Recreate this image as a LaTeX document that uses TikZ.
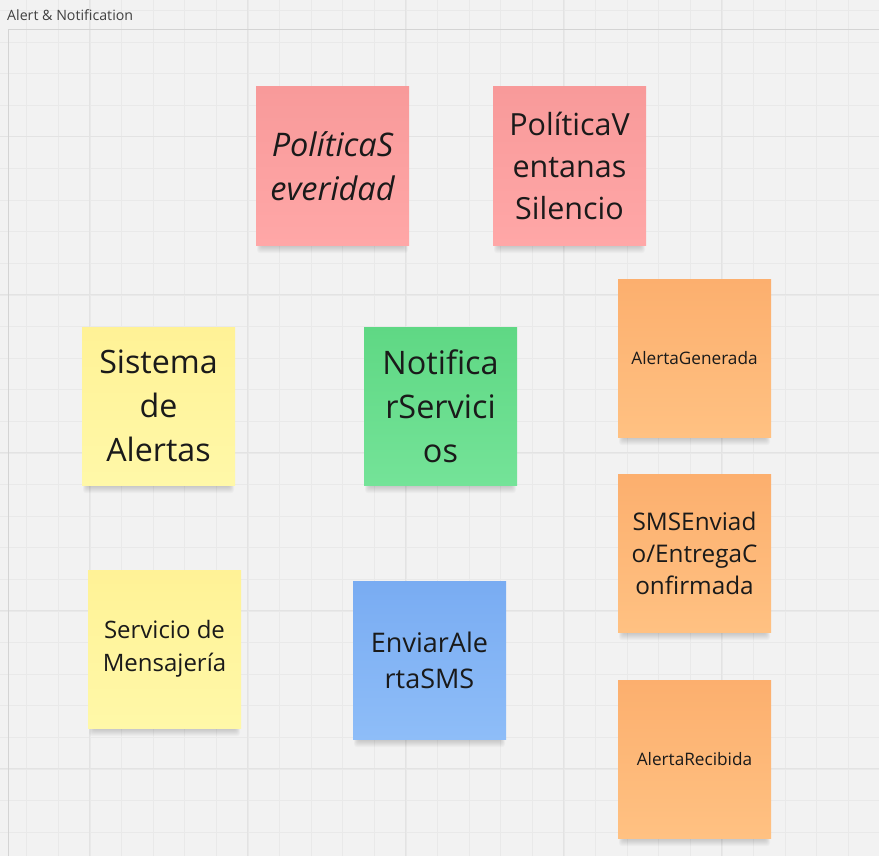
\documentclass[tikz,border=0pt]{standalone}
\usepackage{fontspec}
\setmainfont{Open Sans}
\usetikzlibrary{calc}
\pgfdeclarelayer{gridl}
\pgfdeclarelayer{shadowl}
\pgfsetlayers{gridl,shadowl,main}
\definecolor{bgc}{HTML}{F2F2F2}
\definecolor{gridminor}{HTML}{E9E9E9}
\definecolor{gridmajor}{HTML}{E3E3E3}
\definecolor{framec}{HTML}{D4D4D4}
\definecolor{pinkT}{HTML}{F89A9A}
\definecolor{pinkB}{HTML}{FFA7A7}
\definecolor{orangeT}{HTML}{FCAF6E}
\definecolor{orangeB}{HTML}{FFC182}
\definecolor{yellowT}{HTML}{FFF296}
\definecolor{yellowB}{HTML}{FFF8A8}
\definecolor{greenT}{HTML}{5FD884}
\definecolor{greenB}{HTML}{74E398}
\definecolor{blueT}{HTML}{79ACF2}
\definecolor{blueB}{HTML}{8EBDF8}
\definecolor{inkc}{HTML}{1A1A1A}
\tikzset{
  sticky/.style={rectangle, minimum width=153pt, minimum height=158pt, inner sep=0pt,
    align=center, text=inkc},
  pinknote/.style={sticky, top color=pinkT, bottom color=pinkB},
  orangenote/.style={sticky, top color=orangeT, bottom color=orangeB},
  yellownote/.style={sticky, top color=yellowT, bottom color=yellowB},
  greennote/.style={sticky, top color=greenT, bottom color=greenB},
  bluenote/.style={sticky, top color=blueT, bottom color=blueB},
  softshade/.style={black, opacity=0.022},
}
\begin{document}
\begin{tikzpicture}[x=1pt, y=-1pt]
\useasboundingbox (0,0) rectangle (879,856);
\begin{pgfonlayer}{gridl}
\fill[bgc] (0,0) rectangle (879,856);
\foreach \i in {0,...,28} {
  \draw[gridminor, line width=0.8pt] ({26.7+31.6*(\i-1)},0) -- ({26.7+31.6*(\i-1)},856);
  \draw[gridminor, line width=0.8pt] (0,{10.5+31.6*(\i-1)}) -- (879,{10.5+31.6*(\i-1)});
}
\foreach \i in {0,...,5} {
  \draw[gridmajor, line width=0.9pt] ({89.9+158*\i},0) -- ({89.9+158*\i},856);
  \draw[gridmajor, line width=0.9pt] (0,{136.9+158*(\i-1)}) -- (879,{136.9+158*(\i-1)});
}
\draw[framec, line width=1pt] (8,30) -- (890,30);
\draw[framec, line width=1pt] (8,30) -- (8,870);
\end{pgfonlayer}

\node[anchor=west, inner sep=0pt, font=\fontsize{14.2}{17}\selectfont, text=black!75] (title) at (7,15) {Alert \& Notification};

% stickies
\node[pinknote, font=\fontsize{32.5}{44}\selectfont\itshape] (sev) at (332.5,166) {PolíticaS\\everidad};
\node[pinknote, font=\fontsize{30.5}{42}\selectfont] (sil) at (569.5,166) {PolíticaV\\entanas\\Silencio};
\node[orangenote, font=\fontsize{17.2}{20}\selectfont] (gen) at (694.5,358) {AlertaGenerada};
\node[yellownote, font=\fontsize{32.2}{44}\selectfont] (sis) at (158.5,406) {Sistema\\de\\Alertas};
\node[greennote, font=\fontsize{32.4}{44}\selectfont] (notif) at (440.5,406) {Notifica\\rServici\\os};
\node[orangenote, font=\fontsize{24.3}{32}\selectfont] (sms) at (694.5,553) {SMSEnviad\\o/EntregaC\\onfirmada};
\node[yellownote, font=\fontsize{24}{33}\selectfont] (msg) at (164.5,649) {Servicio de\\Mensajería};
\node[bluenote, font=\fontsize{27}{36}\selectfont] (env) at (429.5,660) {EnviarAle\\rtaSMS};
\node[orangenote, font=\fontsize{17.2}{20}\selectfont] (rec) at (694.5,759) {AlertaRecibida};

\begin{pgfonlayer}{shadowl}
\foreach \n in {sev,sil,gen,sis,notif,sms,msg,env,rec} {
  \foreach \k in {1,...,8} {
    \fill[softshade, rounded corners=3pt] ($(\n.north west)+({6-0.6*\k},6)$) rectangle ($(\n.south east)+({0.6*\k-6},{\k})$);
  }
}
\end{pgfonlayer}
\end{tikzpicture}
\end{document}
